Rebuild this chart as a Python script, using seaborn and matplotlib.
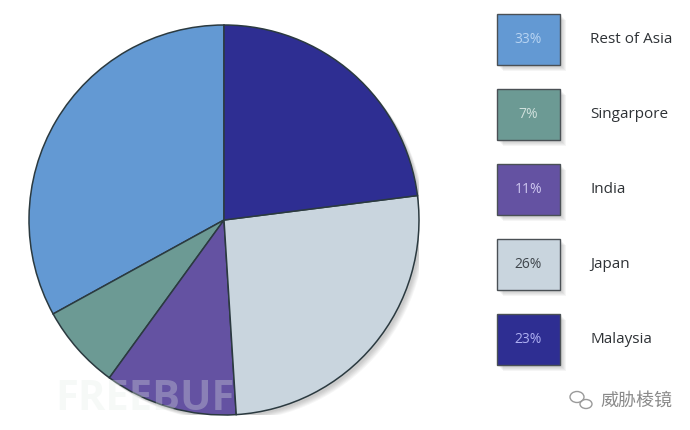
import matplotlib
matplotlib.use("Agg")
import matplotlib.pyplot as plt
from matplotlib.patches import Rectangle, Circle, Ellipse
import seaborn as sns


# legend order (top to bottom); the pie runs counter-clockwise from 12 o'clock in this order
regions = ["Rest of Asia", "Singarpore", "India", "Japan", "Malaysia"]
shares = [33, 7, 11, 26, 23]
slice_colors = ["#6399D3", "#6C9A94", "#6452A2", "#C9D5DE", "#2E2E92"]
pct_text_colors = ["#B8D4F2", "#CFE0DC", "#CFC8F0", "#3F464C", "#AEB0F2"]

sns.set_theme(style="white")
plt.rcParams["font.family"] = ["Open Sans", "Noto Sans CJK SC", "DejaVu Sans"]

fig = plt.figure(figsize=(6.9, 4.3), dpi=100)
fig.patch.set_facecolor("white")

# pie axes: 390 px square centred around (224, 220)
ax = fig.add_axes([29 / 690, 1 - 415 / 430, 390 / 690, 390 / 430])
ax.set_xlim(-1, 1)
ax.set_ylim(-1, 1)
ax.set_aspect("equal")
ax.axis("off")

# soft drop shadow under the pie
for i in range(6):
    ax.add_patch(Circle((0.012 + i * 0.004, -0.012 - i * 0.004), 1.0,
                        color="black", alpha=0.035, lw=0, zorder=0))

ax.pie(
    shares,
    colors=slice_colors,
    startangle=90,
    counterclock=True,
    radius=1.0,
    wedgeprops=dict(edgecolor="#2B3A40", linewidth=1.1),
)
ax.set_xlim(-1, 1)
ax.set_ylim(-1, 1)

# legend drawn in pixel coordinates
lg = fig.add_axes([0, 0, 1, 1])
lg.set_xlim(0, 690)
lg.set_ylim(430, 0)
lg.axis("off")
lg.patch.set_alpha(0)

box_x, box_w, box_h = 497, 63, 51
top, step = 14, 75
for i, (name, share, col, tcol) in enumerate(zip(regions, shares, slice_colors, pct_text_colors)):
    y = top + i * step
    for k in range(5):
        lg.add_patch(Rectangle((box_x + 2 + k, y + 2 + k), box_w, box_h,
                               color="black", alpha=0.04, lw=0, zorder=1))
    lg.add_patch(Rectangle((box_x, y), box_w, box_h, facecolor=col,
                           edgecolor="#4A5055", lw=1.0, zorder=2))
    lg.text(box_x + box_w / 2, y + box_h / 2, f"{share}%", color=tcol,
            fontsize=10, ha="center", va="center", zorder=3)
    lg.text(590, y + box_h / 2, name, color="#2E3236", fontsize=11,
            ha="left", va="center", zorder=3)

# watermarks
lg.text(55, 400, "FREEBUF", fontsize=30, fontweight="bold", color="#E2ECE7",
        alpha=0.3, ha="left", va="center", zorder=5)
lg.add_patch(Ellipse((577, 397), 14, 11, fill=False, ec="#9A9A9A", lw=1.0, zorder=5))
lg.add_patch(Ellipse((586, 404), 12, 9, fill=False, ec="#9A9A9A", lw=1.0, zorder=5))
lg.text(600, 401, "威胁棱镜", fontsize=13, color="#8A8A8A", style="italic",
        ha="left", va="center", zorder=5,
        family=["Noto Sans CJK SC", "DejaVu Sans"])

fig.savefig("out.png", dpi=100, facecolor="white")
